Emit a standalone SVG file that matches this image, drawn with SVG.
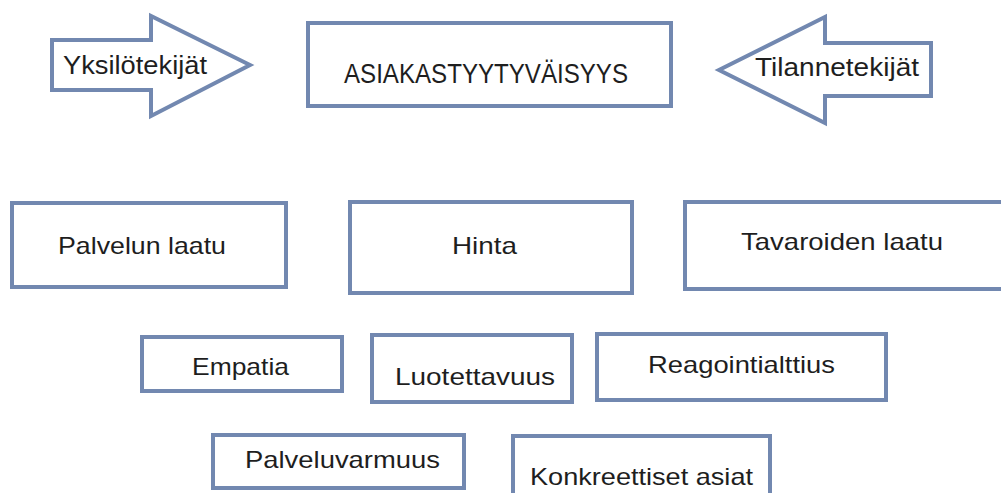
<svg xmlns="http://www.w3.org/2000/svg" width="1001" height="493" viewBox="0 0 1001 493">
<style>
.box{fill:#ffffff;stroke:#7288B0;stroke-width:4}
.t{font-family:"Liberation Sans",Arial,sans-serif;fill:#1e1e1e;font-size:24px}
</style>
<rect x="0" y="0" width="1001" height="493" fill="#ffffff"/>
<g id="yksilotekijat">
<polygon class="box" points="52,40 151,40 151,16 250,65 151,116 151,90 52,90"/>
<text class="t" x="63" y="74" style="font-size:25px" textLength="144" lengthAdjust="spacingAndGlyphs">Yksilötekijät</text>
</g>
<g id="asiakastyytyvaisyys">
<rect class="box" x="308" y="23" width="363" height="83"/>
<text class="t" x="344" y="83" style="font-size:28px" textLength="284" lengthAdjust="spacingAndGlyphs">ASIAKASTYYTYVÄISYYS</text>
</g>
<g id="tilannetekijat">
<polygon class="box" points="931,43 825,43 825,17 719,70 825,123 825,96 931,96"/>
<text class="t" x="755" y="76" style="font-size:25px" textLength="164" lengthAdjust="spacingAndGlyphs">Tilannetekijät</text>
</g>
<g id="palvelun-laatu">
<rect class="box" x="12" y="203" width="274" height="84"/>
<text class="t" x="58" y="254" textLength="168" lengthAdjust="spacingAndGlyphs">Palvelun laatu</text>
</g>
<g id="hinta">
<rect class="box" x="350" y="202" width="282" height="91"/>
<text class="t" x="452" y="254" textLength="65" lengthAdjust="spacingAndGlyphs">Hinta</text>
</g>
<g id="tavaroiden-laatu">
<rect class="box" x="685" y="202" width="330" height="87"/>
<text class="t" x="741" y="250" textLength="202" lengthAdjust="spacingAndGlyphs">Tavaroiden laatu</text>
</g>
<g id="empatia">
<rect class="box" x="142" y="337" width="200" height="54"/>
<text class="t" x="192" y="375" textLength="97" lengthAdjust="spacingAndGlyphs">Empatia</text>
</g>
<g id="luotettavuus">
<rect class="box" x="372" y="335" width="200" height="67"/>
<text class="t" x="395" y="385" textLength="160" lengthAdjust="spacingAndGlyphs">Luotettavuus</text>
</g>
<g id="reagointialttius">
<rect class="box" x="597" y="334" width="289" height="66"/>
<text class="t" x="648" y="373" textLength="187" lengthAdjust="spacingAndGlyphs">Reagointialttius</text>
</g>
<g id="palveluvarmuus">
<rect class="box" x="213" y="435" width="251" height="53"/>
<text class="t" x="245" y="468" textLength="195" lengthAdjust="spacingAndGlyphs">Palveluvarmuus</text>
</g>
<g id="konkreettiset-asiat">
<rect class="box" x="513" y="436" width="257" height="70"/>
<text class="t" x="530" y="485" textLength="223" lengthAdjust="spacingAndGlyphs">Konkreettiset asiat</text>
</g>
<g id="connectors"></g>
</svg>
